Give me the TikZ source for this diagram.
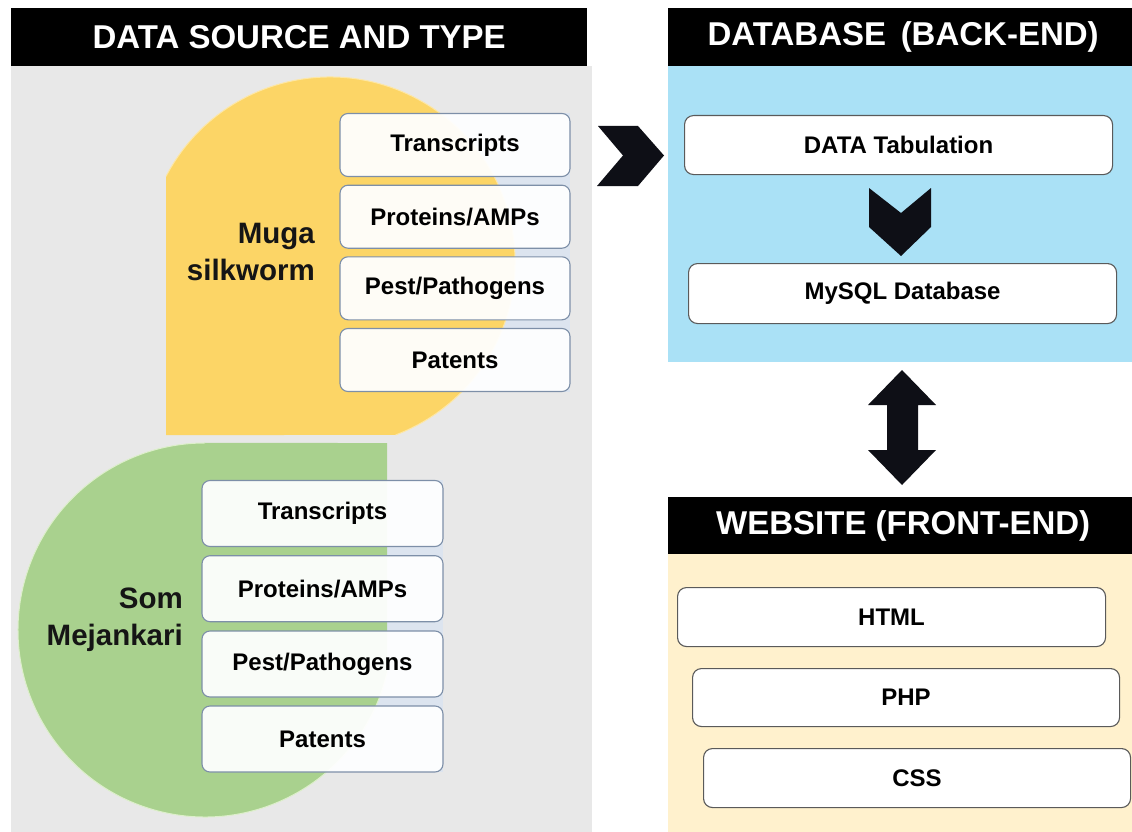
\documentclass[tikz,border=0pt]{standalone}
\usepackage{fontspec}
\setmainfont{Liberation Sans}
\definecolor{panelgrey}{HTML}{E8E8E8}
\definecolor{mugafill}{HTML}{FCD566}
\definecolor{mugarim}{HTML}{FDE7A6}
\definecolor{somfill}{HTML}{A9D18E}
\definecolor{somrim}{HTML}{DDEFCB}
\definecolor{bandblue}{HTML}{DCE4EF}
\definecolor{boxedge}{HTML}{7D8FA8}
\definecolor{darkedge}{HTML}{5A5A5A}
\definecolor{backblue}{HTML}{AAE1F6}
\definecolor{frontcream}{HTML}{FFF1CD}
\definecolor{arrowink}{HTML}{0E0F16}
\definecolor{labeltext}{HTML}{151515}
\begin{document}
\begin{tikzpicture}[x=1pt,y=-1pt,
  hdr/.style={fill=black, text=white, inner sep=0pt, anchor=north west,
    font=\bfseries\fontsize{33}{38}\selectfont},
  srcbox/.style={draw=boxedge, line width=1.1pt, fill=white, fill opacity=0.94,
    text opacity=1, rounded corners=8pt, inner sep=0pt, text=black,
    font=\bfseries\fontsize{24}{28}\selectfont},
  webbox/.style={draw=darkedge, line width=1.1pt, fill=white, rounded corners=9pt,
    inner sep=0pt, text=black, anchor=north west,
    font=\bfseries\fontsize{24}{28}\selectfont},
  lbl/.style={inner sep=0pt, anchor=base east, text=labeltext,
    font=\bfseries\fontsize{29.5}{36}\selectfont},
  blockarrow/.style={fill=arrowink}
]
\useasboundingbox (0,0) rectangle (1132,832);
\fill[white] (0,0) rectangle (1132,832);

% ---------- data sources ----------
\fill[panelgrey] (11,66) rectangle (592,832);
\node[hdr, minimum width=576pt, minimum height=58pt] (srchdr) at (11,8) {DATA SOURCE AND TYPE};

% pale bands behind the two box columns
\fill[bandblue] (340,113) rectangle (570,392);
\fill[bandblue] (202,480) rectangle (443,772);

% Muga silkworm disc (square lower-left corner)
\fill[mugafill] (166,435) -- (166,176.4)
  arc[start angle=152.44, end angle=-69.26, radius=185pt] -- cycle;
\draw[mugarim, line width=1pt] (166,176.4)
  arc[start angle=152.44, end angle=-69.26, radius=185pt];

% Som Mejankari disc (square upper-right corner)
\fill[somfill] (387,443) -- (387,673)
  arc[start angle=-13.3, end angle=-270, radius=187pt] -- cycle;
\draw[somrim, line width=1pt] (387,673)
  arc[start angle=-13.3, end angle=-270, radius=187pt];

\node[lbl] (muga1) at (315,243) {Muga};
\node[lbl] (muga2) at (315,280) {silkworm};
\node[lbl] (som1) at (183,608) {Som};
\node[lbl] (som2) at (183,645) {Mejankari};

\begin{scope}[every node/.style={srcbox, minimum width=230pt, minimum height=63pt}]
  \node (mt) at (455,145)   {Transcripts};
  \node (mp) at (455,216.7) {Proteins/AMPs};
  \node (mg) at (455,288.3) {Pest/Pathogens};
  \node (ma) at (455,360)   {Patents};
\end{scope}
\begin{scope}[every node/.style={srcbox, minimum width=241pt, minimum height=66pt}]
  \node (st) at (322.5,513.5) {Transcripts};
  \node (sp) at (322.5,588.7) {Proteins/AMPs};
  \node (sg) at (322.5,664)   {Pest/Pathogens};
  \node (sa) at (322.5,739)   {Patents};
\end{scope}

% ---------- back end ----------
\fill[backblue] (668,66) rectangle (1132,362);
\node[hdr, minimum width=470pt, minimum height=58pt] (dbhdr) at (668,8) {DATABASE\, (BACK-END)};
\node[webbox, minimum width=428pt, minimum height=59pt] (tab) at (684,115) {DATA Tabulation};
\node[webbox, minimum width=428pt, minimum height=60pt] (sql) at (688,263) {MySQL Database};

% ---------- front end ----------
\fill[frontcream] (668,554) rectangle (1132,832);
\node[hdr, minimum width=470pt, minimum height=57pt] (webhdr) at (668,497) {WEBSITE (FRONT-END)};
\node[webbox, minimum width=428pt, minimum height=59pt] (html) at (677,587) {HTML};
\node[webbox, minimum width=427pt, minimum height=58pt] (php) at (692,668) {PHP};
\node[webbox, minimum width=427pt, minimum height=59pt] (css) at (703,748) {CSS};

% ---------- block arrows ----------
% sources -> database
\fill[blockarrow] (598,126) -- (638,126) -- (664,155.5) -- (638,186) -- (597,186) -- (623,155.5) -- cycle;
% tabulation -> MySQL
\fill[blockarrow] (869,188) -- (901,213) -- (931,188) -- (931,227) -- (901,256) -- (869,227) -- cycle;
% database <-> website
\fill[blockarrow] (902,370) -- (936,405) -- (918,405) -- (918,450) -- (936,450) -- (902,485)
  -- (868,450) -- (887,450) -- (887,405) -- (868,405) -- cycle;
\end{tikzpicture}
\end{document}
